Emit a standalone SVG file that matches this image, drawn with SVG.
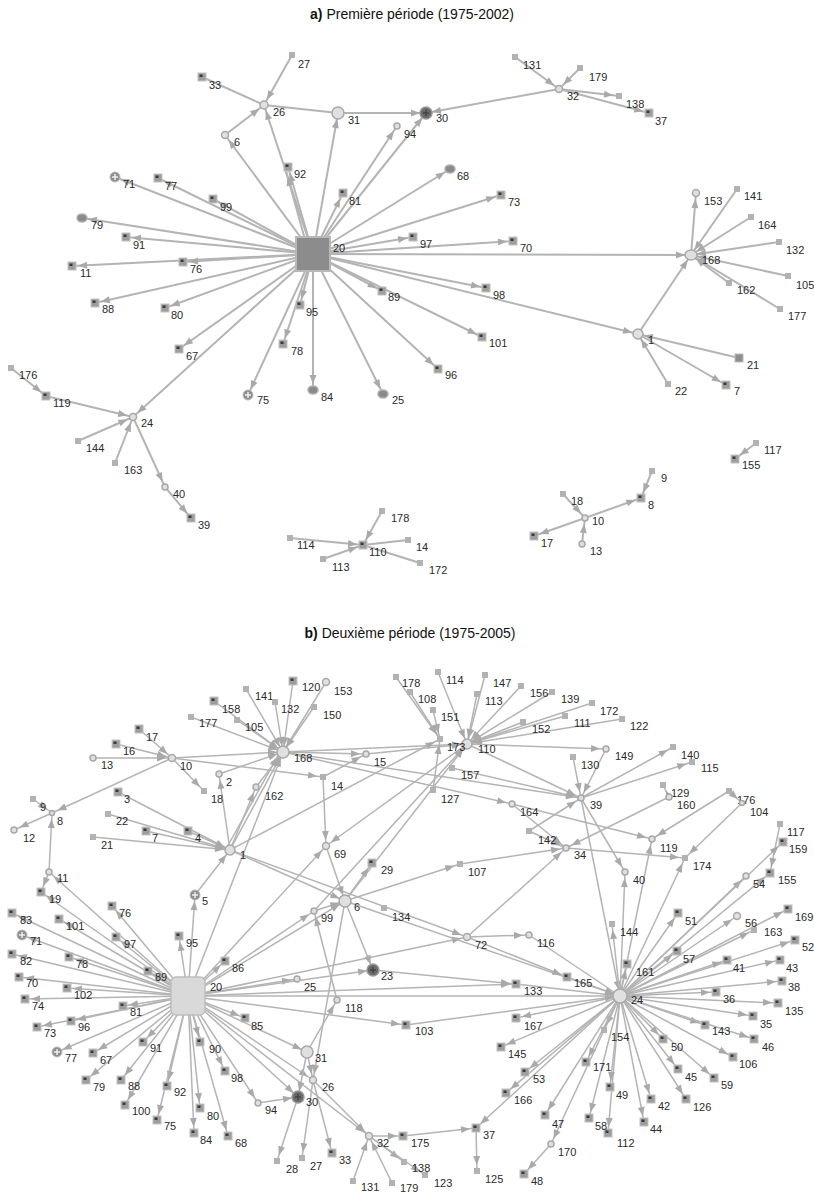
<svg xmlns="http://www.w3.org/2000/svg" xmlns:xlink="http://www.w3.org/1999/xlink" width="814" height="1193" viewBox="0 0 814 1193">
<style>
text{font-family:"Liberation Sans",Arial,sans-serif;font-size:11px;fill:#2a2a2a}
.ttl{font-size:14px;fill:#111}
.ea line{stroke:#b4b4b4;stroke-width:2}
.eb line{stroke:#b4b4b4;stroke-width:1.5}
.c{fill:#e0e0e0;stroke:#a8a8a8;stroke-width:1.5}
</style>
<defs>
<marker id="ar" markerUnits="userSpaceOnUse" markerWidth="9" markerHeight="7" refX="15" refY="3.5" orient="auto" overflow="visible"><path d="M0,0L9,3.5L0,7z" fill="#a9a9a9"/></marker>
<g id="F"><rect x="-4" y="-4" width="8" height="8" fill="#9d9d9d" stroke="#c2c2c2"/><rect x="-2.5" y="-2.5" width="3" height="2.5" fill="#3a3a3a"/></g>
<rect id="L" x="-3" y="-3" width="6" height="6" fill="#b2b2b2"/>
<g id="X"><circle r="5" fill="#8e8e8e" stroke="#bbb"/><path d="M-3,0H3M0,-3V3" stroke="#eee" stroke-width="1.5"/></g>
<ellipse id="E" rx="5" ry="4" fill="#8a8a8a" stroke="#b0b0b0" stroke-width="1.5"/>
<g id="D"><circle r="6" fill="#6a6a6a" stroke="#9a9a9a" stroke-width="1.5"/><path d="M-3,0H3M0,-3V3" stroke="#444" stroke-width="1.5"/></g>
</defs>
<rect width="814" height="1193" fill="#fff"/>
<text class="ttl" x="412" y="19" text-anchor="middle"><tspan font-weight="bold">a)</tspan> Première période (1975-2002)</text>
<text class="ttl" x="410" y="638" text-anchor="middle"><tspan font-weight="bold">b)</tspan> Deuxième période (1975-2005)</text>
<g id="connectors">
<g class="ea" marker-end="url(#ar)">
<line x1="313" y1="254" x2="264" y2="105"/><line x1="313" y1="254" x2="338" y2="113"/><line x1="313" y1="254" x2="397" y2="126"/><line x1="313" y1="254" x2="426" y2="113"/><line x1="313" y1="254" x2="225" y2="135"/><line x1="313" y1="254" x2="288" y2="167"/><line x1="309" y1="254" x2="286" y2="171"/><line x1="313" y1="254" x2="115" y2="177"/><line x1="313" y1="254" x2="158" y2="178"/><line x1="313" y1="254" x2="213" y2="199"/><line x1="313" y1="254" x2="343" y2="193"/><line x1="313" y1="254" x2="450" y2="169"/><line x1="313" y1="254" x2="501" y2="195"/><line x1="313" y1="254" x2="413" y2="237"/><line x1="313" y1="254" x2="513" y2="241"/><line x1="313" y1="254" x2="691" y2="255"/><line x1="313" y1="254" x2="486" y2="288"/><line x1="313" y1="254" x2="638" y2="334"/><line x1="313" y1="254" x2="382" y2="291"/><line x1="313" y1="254" x2="482" y2="337"/><line x1="313" y1="254" x2="438" y2="369"/><line x1="313" y1="254" x2="383" y2="394"/><line x1="313" y1="254" x2="313" y2="390"/><line x1="313" y1="254" x2="300" y2="305"/><line x1="313" y1="254" x2="283" y2="344"/><line x1="313" y1="254" x2="248" y2="395"/><line x1="313" y1="254" x2="133" y2="417"/><line x1="313" y1="254" x2="179" y2="349"/><line x1="313" y1="254" x2="165" y2="308"/><line x1="313" y1="254" x2="95" y2="303"/><line x1="313" y1="254" x2="72" y2="266"/><line x1="313" y1="254" x2="183" y2="262"/><line x1="313" y1="254" x2="126" y2="237"/><line x1="313" y1="254" x2="82" y2="218"/>
<line x1="225" y1="135" x2="264" y2="105"/><line x1="292" y1="55" x2="264" y2="105"/><line x1="338" y1="113" x2="426" y2="113"/><line x1="559" y1="89" x2="426" y2="113"/><line x1="515" y1="57" x2="559" y2="89"/><line x1="580" y1="68" x2="559" y2="89"/><line x1="559" y1="89" x2="619" y2="96"/><line x1="559" y1="89" x2="649" y2="113"/>
<line x1="638" y1="334" x2="691" y2="255"/><line x1="739" y1="358" x2="638" y2="334"/><line x1="668" y1="384" x2="638" y2="334"/><line x1="638" y1="334" x2="726" y2="385"/>
<line x1="691" y1="255" x2="696" y2="193"/><line x1="737" y1="189" x2="691" y2="255"/><line x1="751" y1="217" x2="691" y2="255"/><line x1="779" y1="242" x2="691" y2="255"/><line x1="788" y1="276" x2="691" y2="255"/><line x1="729" y1="283" x2="691" y2="255"/><line x1="780" y1="309" x2="691" y2="255"/>
<line x1="11" y1="368" x2="46" y2="396"/><line x1="46" y1="396" x2="133" y2="417"/><line x1="78" y1="441" x2="133" y2="417"/><line x1="115" y1="463" x2="133" y2="417"/><line x1="133" y1="417" x2="165" y2="487"/><line x1="165" y1="487" x2="191" y2="518"/>
<line x1="290" y1="538" x2="363" y2="545"/><line x1="382" y1="511" x2="363" y2="545"/><line x1="323" y1="559" x2="363" y2="545"/>
<line x1="563" y1="494" x2="585" y2="518"/><line x1="585" y1="518" x2="641" y2="498"/><line x1="585" y1="518" x2="534" y2="536"/><line x1="582" y1="544" x2="585" y2="518"/><line x1="652" y1="471" x2="641" y2="498"/><line x1="756" y1="443" x2="735" y2="459"/>
</g>
<g class="ea">
<line x1="202" y1="77" x2="264" y2="105"/><line x1="264" y1="105" x2="338" y2="113"/><line x1="363" y1="545" x2="408" y2="540"/><line x1="363" y1="545" x2="420" y2="563"/>
</g>
<g class="eb" marker-end="url(#ar)">
<line x1="188" y1="996" x2="112" y2="906"/><line x1="188" y1="996" x2="12" y2="913"/><line x1="188" y1="996" x2="59" y2="919"/><line x1="188" y1="996" x2="22" y2="935"/><line x1="188" y1="996" x2="116" y2="937"/><line x1="188" y1="996" x2="179" y2="936"/><line x1="188" y1="996" x2="12" y2="954"/><line x1="188" y1="996" x2="69" y2="957"/><line x1="188" y1="996" x2="148" y2="971"/><line x1="188" y1="996" x2="19" y2="977"/><line x1="188" y1="996" x2="67" y2="988"/><line x1="188" y1="996" x2="25" y2="999"/><line x1="188" y1="996" x2="123" y2="1006"/><line x1="188" y1="996" x2="37" y2="1027"/><line x1="188" y1="996" x2="71" y2="1021"/><line x1="188" y1="996" x2="57" y2="1052"/><line x1="188" y1="996" x2="93" y2="1053"/><line x1="188" y1="996" x2="143" y2="1042"/><line x1="188" y1="996" x2="86" y2="1080"/><line x1="188" y1="996" x2="121" y2="1080"/><line x1="188" y1="996" x2="167" y2="1086"/><line x1="188" y1="996" x2="125" y2="1105"/><line x1="188" y1="996" x2="157" y2="1120"/><line x1="188" y1="996" x2="194" y2="1133"/><line x1="188" y1="996" x2="200" y2="1108"/><line x1="188" y1="996" x2="228" y2="1136"/><line x1="188" y1="996" x2="200" y2="1042"/><line x1="188" y1="996" x2="225" y2="1071"/><line x1="188" y1="996" x2="258" y2="1103"/><line x1="188" y1="996" x2="298" y2="1097"/><line x1="188" y1="996" x2="313" y2="1080"/><line x1="188" y1="996" x2="369" y2="1136"/><line x1="188" y1="996" x2="307" y2="1052"/><line x1="188" y1="996" x2="245" y2="1018"/><line x1="188" y1="996" x2="406" y2="1025"/><line x1="188" y1="996" x2="297" y2="979"/><line x1="188" y1="996" x2="373" y2="970"/><line x1="188" y1="996" x2="225" y2="961"/><line x1="188" y1="996" x2="314" y2="911"/><line x1="188" y1="996" x2="345" y2="901"/><line x1="188" y1="996" x2="467" y2="937"/><line x1="188" y1="996" x2="326" y2="846"/><line x1="188" y1="996" x2="283" y2="752"/><line x1="188" y1="996" x2="195" y2="895"/><line x1="188" y1="996" x2="41" y2="892"/><line x1="188" y1="996" x2="49" y2="872"/><line x1="188" y1="996" x2="516" y2="984"/>
<line x1="293" y1="681" x2="283" y2="752"/><line x1="326" y1="682" x2="283" y2="752"/><line x1="246" y1="689" x2="283" y2="752"/><line x1="275" y1="702" x2="283" y2="752"/><line x1="314" y1="707" x2="283" y2="752"/><line x1="214" y1="701" x2="283" y2="752"/><line x1="237" y1="720" x2="283" y2="752"/><line x1="191" y1="717" x2="283" y2="752"/><line x1="256" y1="787" x2="283" y2="752"/><line x1="219" y1="774" x2="283" y2="752"/><line x1="230" y1="850" x2="283" y2="752"/><line x1="226" y1="849" x2="280" y2="752"/><line x1="172" y1="758" x2="283" y2="752"/>
<line x1="283" y1="752" x2="467" y2="744"/><line x1="172" y1="758" x2="323" y2="777"/><line x1="283" y1="752" x2="581" y2="798"/><line x1="283" y1="752" x2="512" y2="804"/><line x1="283" y1="752" x2="366" y2="754"/><line x1="323" y1="777" x2="366" y2="754"/><line x1="366" y1="754" x2="467" y2="744"/><line x1="323" y1="777" x2="326" y2="846"/>
<line x1="396" y1="677" x2="440" y2="739"/><line x1="410" y1="692" x2="440" y2="739"/><line x1="433" y1="710" x2="440" y2="739"/><line x1="438" y1="672" x2="467" y2="744"/><line x1="485" y1="675" x2="467" y2="744"/><line x1="477" y1="694" x2="467" y2="744"/><line x1="521" y1="686" x2="467" y2="744"/><line x1="552" y1="692" x2="467" y2="744"/><line x1="592" y1="703" x2="467" y2="744"/><line x1="622" y1="719" x2="467" y2="744"/><line x1="523" y1="722" x2="467" y2="744"/><line x1="565" y1="716" x2="467" y2="744"/><line x1="433" y1="790" x2="440" y2="739"/>
<line x1="467" y1="744" x2="606" y2="749"/><line x1="467" y1="744" x2="581" y2="798"/><line x1="345" y1="901" x2="467" y2="744"/><line x1="467" y1="744" x2="326" y2="846"/><line x1="314" y1="911" x2="467" y2="744"/><line x1="230" y1="850" x2="440" y2="739"/>
<line x1="573" y1="757" x2="581" y2="798"/><line x1="606" y1="749" x2="581" y2="798"/><line x1="452" y1="768" x2="581" y2="798"/><line x1="529" y1="831" x2="581" y2="798"/><line x1="581" y1="798" x2="673" y2="747"/><line x1="581" y1="798" x2="692" y2="762"/><line x1="581" y1="798" x2="620" y2="996"/><line x1="581" y1="798" x2="625" y2="872"/>
<line x1="512" y1="804" x2="652" y2="839"/><line x1="512" y1="804" x2="566" y2="848"/><line x1="529" y1="831" x2="566" y2="848"/><line x1="460" y1="864" x2="566" y2="848"/><line x1="345" y1="901" x2="460" y2="864"/><line x1="467" y1="937" x2="566" y2="848"/><line x1="669" y1="797" x2="566" y2="848"/><line x1="669" y1="797" x2="663" y2="785"/><line x1="566" y1="848" x2="685" y2="858"/><line x1="729" y1="791" x2="652" y2="839"/><line x1="729" y1="791" x2="742" y2="803"/><line x1="742" y1="803" x2="685" y2="858"/><line x1="620" y1="996" x2="652" y2="839"/><line x1="620" y1="996" x2="685" y2="858"/><line x1="620" y1="996" x2="625" y2="872"/><line x1="780" y1="824" x2="770" y2="873"/>
<line x1="620" y1="996" x2="612" y2="924"/><line x1="620" y1="996" x2="627" y2="964"/><line x1="620" y1="996" x2="678" y2="913"/><line x1="620" y1="996" x2="677" y2="951"/><line x1="620" y1="996" x2="737" y2="916"/><line x1="620" y1="996" x2="788" y2="909"/><line x1="620" y1="996" x2="754" y2="930"/><line x1="620" y1="996" x2="795" y2="940"/><line x1="620" y1="996" x2="727" y2="960"/><line x1="620" y1="996" x2="780" y2="960"/><line x1="620" y1="996" x2="782" y2="981"/><line x1="620" y1="996" x2="716" y2="992"/><line x1="620" y1="996" x2="778" y2="1003"/><line x1="620" y1="996" x2="753" y2="1016"/><line x1="620" y1="996" x2="705" y2="1025"/><line x1="620" y1="996" x2="754" y2="1039"/><line x1="620" y1="996" x2="663" y2="1039"/><line x1="620" y1="996" x2="733" y2="1057"/><line x1="620" y1="996" x2="678" y2="1069"/><line x1="620" y1="996" x2="714" y2="1078"/><line x1="620" y1="996" x2="651" y2="1099"/><line x1="620" y1="996" x2="686" y2="1099"/><line x1="620" y1="996" x2="644" y2="1122"/><line x1="620" y1="996" x2="608" y2="1133"/><line x1="620" y1="996" x2="610" y2="1087"/><line x1="620" y1="996" x2="604" y2="1030"/><line x1="620" y1="996" x2="589" y2="1118"/><line x1="620" y1="996" x2="586" y2="1062"/><line x1="620" y1="996" x2="545" y2="1115"/><line x1="620" y1="996" x2="551" y2="1144"/><line x1="620" y1="996" x2="525" y2="1072"/><line x1="620" y1="996" x2="506" y2="1093"/><line x1="620" y1="996" x2="501" y2="1047"/><line x1="620" y1="996" x2="516" y2="1018"/><line x1="620" y1="996" x2="476" y2="1128"/><line x1="620" y1="996" x2="746" y2="876"/><line x1="620" y1="996" x2="770" y2="873"/><line x1="620" y1="996" x2="783" y2="842"/>
<line x1="516" y1="984" x2="620" y2="996"/><line x1="567" y1="977" x2="620" y2="996"/><line x1="406" y1="1025" x2="620" y2="996"/><line x1="345" y1="901" x2="620" y2="996"/><line x1="551" y1="1144" x2="524" y2="1174"/><line x1="467" y1="937" x2="567" y2="977"/><line x1="467" y1="937" x2="529" y2="935"/>
<line x1="230" y1="850" x2="345" y2="901"/><line x1="230" y1="850" x2="467" y2="937"/><line x1="314" y1="911" x2="345" y2="901"/><line x1="345" y1="901" x2="373" y2="970"/><line x1="345" y1="901" x2="313" y2="1080"/><line x1="326" y1="846" x2="345" y2="901"/><line x1="345" y1="901" x2="372" y2="863"/><line x1="373" y1="970" x2="516" y2="984"/><line x1="307" y1="1052" x2="337" y2="1000"/><line x1="337" y1="1000" x2="314" y2="911"/><line x1="307" y1="1052" x2="298" y2="1097"/><line x1="307" y1="1052" x2="313" y2="1080"/><line x1="313" y1="1080" x2="369" y2="1136"/><line x1="313" y1="1080" x2="302" y2="1158"/><line x1="313" y1="1080" x2="332" y2="1153"/><line x1="298" y1="1097" x2="277" y2="1161"/><line x1="258" y1="1103" x2="298" y2="1097"/>
<line x1="353" y1="1181" x2="369" y2="1136"/><line x1="392" y1="1183" x2="369" y2="1136"/><line x1="369" y1="1136" x2="403" y2="1136"/><line x1="369" y1="1136" x2="404" y2="1162"/><line x1="369" y1="1136" x2="425" y2="1175"/><line x1="403" y1="1136" x2="476" y2="1128"/><line x1="476" y1="1128" x2="477" y2="1171"/>
<line x1="139" y1="729" x2="172" y2="758"/><line x1="116" y1="744" x2="172" y2="758"/><line x1="93" y1="758" x2="172" y2="758"/><line x1="172" y1="758" x2="204" y2="791"/><line x1="172" y1="758" x2="52" y2="813"/><line x1="33" y1="799" x2="52" y2="813"/><line x1="52" y1="813" x2="14" y2="830"/><line x1="49" y1="872" x2="52" y2="813"/><line x1="49" y1="872" x2="41" y2="892"/>
<line x1="118" y1="792" x2="230" y2="850"/><line x1="108" y1="814" x2="230" y2="850"/><line x1="146" y1="831" x2="230" y2="850"/><line x1="188" y1="831" x2="230" y2="850"/><line x1="93" y1="837" x2="230" y2="850"/><line x1="230" y1="850" x2="219" y2="774"/><line x1="230" y1="850" x2="256" y2="787"/><line x1="195" y1="895" x2="230" y2="850"/>
</g>
<g class="eb"><line x1="188" y1="996" x2="620" y2="996"/><line x1="529" y1="935" x2="620" y2="996"/></g>
</g>
<g id="nodes-a">
<g id="a20"><rect x="296" y="237" width="34" height="34" fill="#8c8c8c" stroke="#b8b8b8" stroke-width="2"/><text x="333" y="252">20</text></g>
<g id="a27"><use href="#L" x="292" y="55"/><text x="298" y="68">27</text></g>
<g id="a33"><use href="#F" x="202" y="77"/><text x="209" y="89">33</text></g>
<g id="a26"><circle class="c" cx="264" cy="105" r="4"/><text x="273" y="116">26</text></g>
<g id="a31"><circle class="c" cx="338" cy="113" r="6"/><text x="348" y="124">31</text></g>
<g id="a6"><circle class="c" cx="225" cy="135" r="3.5"/><text x="234" y="146">6</text></g>
<g id="a92"><use href="#F" x="288" y="167"/><text x="294" y="178">92</text></g>
<g id="a71"><use href="#X" x="115" y="177"/><text x="123" y="188">71</text></g>
<g id="a77"><use href="#F" x="158" y="178"/><text x="165" y="190">77</text></g>
<g id="a99"><use href="#F" x="213" y="199"/><text x="220" y="211">99</text></g>
<g id="a81"><use href="#F" x="343" y="193"/><text x="349" y="205">81</text></g>
<g id="a79"><use href="#E" x="82" y="218"/><text x="91" y="229">79</text></g>
<g id="a91"><use href="#F" x="126" y="237"/><text x="133" y="249">91</text></g>
<g id="a11"><use href="#F" x="72" y="266"/><text x="80" y="277">11</text></g>
<g id="a76"><use href="#F" x="183" y="262"/><text x="190" y="273">76</text></g>
<g id="a89"><use href="#F" x="382" y="291"/><text x="388" y="301">89</text></g>
<g id="a88"><use href="#F" x="95" y="303"/><text x="102" y="313">88</text></g>
<g id="a80"><use href="#F" x="165" y="308"/><text x="171" y="319">80</text></g>
<g id="a67"><use href="#F" x="179" y="349"/><text x="186" y="360">67</text></g>
<g id="a95"><use href="#F" x="300" y="305"/><text x="306" y="316">95</text></g>
<g id="a78"><use href="#F" x="283" y="344"/><text x="291" y="355">78</text></g>
<g id="a75"><use href="#X" x="248" y="395"/><text x="257" y="404">75</text></g>
<g id="a84"><use href="#E" x="313" y="390"/><text x="321" y="401">84</text></g>
<g id="a25"><use href="#E" x="383" y="394"/><text x="392" y="404">25</text></g>
<g id="a176"><use href="#L" x="11" y="368"/><text x="19" y="379">176</text></g>
<g id="a119"><use href="#F" x="46" y="396"/><text x="53" y="407">119</text></g>
<g id="a24"><circle class="c" cx="133" cy="417" r="3.5"/><text x="141" y="427">24</text></g>
<g id="a144"><use href="#L" x="78" y="441"/><text x="86" y="452">144</text></g>
<g id="a163"><use href="#L" x="115" y="463"/><text x="124" y="474">163</text></g>
<g id="a40"><circle class="c" cx="165" cy="487" r="3"/><text x="173" y="498">40</text></g>
<g id="a39"><use href="#F" x="191" y="518"/><text x="198" y="529">39</text></g>
<g id="a114"><use href="#L" x="290" y="538"/><text x="297" y="549">114</text></g>
<g id="a178"><use href="#L" x="382" y="511"/><text x="391" y="522">178</text></g>
<g id="a110"><use href="#F" x="363" y="545"/><text x="369" y="556">110</text></g>
<g id="a113"><use href="#L" x="323" y="559"/><text x="332" y="571">113</text></g>
<g id="a14"><use href="#L" x="408" y="540"/><text x="416" y="551">14</text></g>
<g id="a172"><use href="#L" x="420" y="563"/><text x="429" y="574">172</text></g>
<g id="a30"><use href="#D" x="426" y="113"/><text x="436" y="122">30</text></g>
<g id="a94"><circle class="c" cx="397" cy="126" r="3"/><text x="404" y="138">94</text></g>
<g id="a131"><use href="#L" x="515" y="57"/><text x="523" y="69">131</text></g>
<g id="a179"><use href="#L" x="580" y="68"/><text x="589" y="81">179</text></g>
<g id="a32"><circle class="c" cx="559" cy="89" r="3.5"/><text x="567" y="100">32</text></g>
<g id="a138"><use href="#L" x="619" y="96"/><text x="626" y="108">138</text></g>
<g id="a37"><use href="#F" x="649" y="113"/><text x="655" y="125">37</text></g>
<g id="a68"><use href="#E" x="450" y="169"/><text x="457" y="180">68</text></g>
<g id="a73"><use href="#F" x="501" y="195"/><text x="508" y="206">73</text></g>
<g id="a97"><use href="#F" x="413" y="237"/><text x="420" y="248">97</text></g>
<g id="a70"><use href="#F" x="513" y="241"/><text x="520" y="252">70</text></g>
<g id="a98"><use href="#F" x="486" y="288"/><text x="493" y="299">98</text></g>
<g id="a153"><circle class="c" cx="696" cy="193" r="3.5"/><text x="704" y="205">153</text></g>
<g id="a141"><use href="#L" x="737" y="189"/><text x="744" y="200">141</text></g>
<g id="a164"><use href="#L" x="751" y="217"/><text x="758" y="229">164</text></g>
<g id="a132"><use href="#L" x="779" y="242"/><text x="786" y="254">132</text></g>
<g id="a168"><ellipse class="c" cx="691" cy="255" rx="6" ry="5"/><text x="702" y="264">168</text></g>
<g id="a105"><use href="#L" x="788" y="276"/><text x="796" y="289">105</text></g>
<g id="a162"><use href="#L" x="729" y="283"/><text x="737" y="294">162</text></g>
<g id="a177"><use href="#L" x="780" y="309"/><text x="788" y="320">177</text></g>
<g id="a1"><circle class="c" cx="638" cy="334" r="5"/><text x="648" y="344">1</text></g>
<g id="a101"><use href="#F" x="482" y="337"/><text x="489" y="347">101</text></g>
<g id="a96"><use href="#F" x="438" y="369"/><text x="445" y="379">96</text></g>
<g id="a21"><rect x="735" y="354" width="8" height="8" fill="#8e8e8e" stroke="#bbb"/><text x="747" y="369">21</text></g>
<g id="a22"><use href="#L" x="668" y="384"/><text x="675" y="395">22</text></g>
<g id="a7"><use href="#F" x="726" y="385"/><text x="734" y="395">7</text></g>
<g id="a117"><use href="#L" x="756" y="443"/><text x="764" y="454">117</text></g>
<g id="a155"><use href="#F" x="735" y="459"/><text x="742" y="469">155</text></g>
<g id="a9"><use href="#L" x="652" y="471"/><text x="661" y="482">9</text></g>
<g id="a18"><use href="#L" x="563" y="494"/><text x="571" y="505">18</text></g>
<g id="a8"><use href="#F" x="641" y="498"/><text x="648" y="509">8</text></g>
<g id="a10"><circle class="c" cx="585" cy="518" r="3"/><text x="592" y="525">10</text></g>
<g id="a17"><use href="#F" x="534" y="536"/><text x="541" y="547">17</text></g>
<g id="a13"><circle class="c" cx="582" cy="544" r="3"/><text x="590" y="555">13</text></g>
</g>
<g id="nodes-b">
<g id="b20"><rect x="171" y="977" width="34" height="38" rx="5" fill="#d9d9d9" stroke="#bdbdbd" stroke-width="1.5"/><text x="210" y="991">20</text></g>
<g id="b24"><circle class="c" cx="620" cy="996" r="7"/><text x="631" y="1004">24</text></g>
<g id="b168"><circle class="c" cx="283" cy="752" r="6"/><text x="294" y="762">168</text></g>
<g id="b110"><circle class="c" cx="467" cy="744" r="5"/><text x="478" y="753">110</text></g>
<g id="b173"><use href="#L" x="440" y="739"/><text x="447" y="751">173</text></g>
<g id="b1"><circle class="c" cx="230" cy="850" r="5"/><text x="240" y="859">1</text></g>
<g id="b6"><circle class="c" cx="345" cy="901" r="6"/><text x="354" y="911">6</text></g>
<g id="b10"><circle class="c" cx="172" cy="758" r="3.5"/><text x="180" y="770">10</text></g>
<g id="b8"><circle class="c" cx="52" cy="813" r="2.5"/><text x="57" y="825">8</text></g>
<g id="b9"><use href="#L" x="33" y="799"/><text x="40" y="811">9</text></g>
<g id="b12"><circle class="c" cx="14" cy="830" r="3"/><text x="23" y="842">12</text></g>
<g id="b11"><circle class="c" cx="49" cy="872" r="3"/><text x="57" y="882">11</text></g>
<g id="b19"><use href="#F" x="41" y="892"/><text x="49" y="903">19</text></g>
<g id="b17"><use href="#F" x="139" y="729"/><text x="146" y="741">17</text></g>
<g id="b16"><use href="#F" x="116" y="744"/><text x="123" y="755">16</text></g>
<g id="b13"><circle class="c" cx="93" cy="758" r="3"/><text x="101" y="769">13</text></g>
<g id="b177"><use href="#L" x="191" y="717"/><text x="199" y="727">177</text></g>
<g id="b3"><use href="#F" x="118" y="792"/><text x="124" y="803">3</text></g>
<g id="b22"><use href="#L" x="108" y="814"/><text x="116" y="825">22</text></g>
<g id="b7"><use href="#F" x="146" y="831"/><text x="152" y="842">7</text></g>
<g id="b4"><use href="#F" x="188" y="831"/><text x="195" y="842">4</text></g>
<g id="b21"><use href="#L" x="93" y="837"/><text x="101" y="849">21</text></g>
<g id="b5"><use href="#X" x="195" y="895"/><text x="202" y="905">5</text></g>
<g id="b18"><use href="#L" x="204" y="791"/><text x="211" y="803">18</text></g>
<g id="b2"><circle class="c" cx="219" cy="774" r="3"/><text x="226" y="786">2</text></g>
<g id="b158"><use href="#F" x="214" y="701"/><text x="222" y="713">158</text></g>
<g id="b105"><use href="#L" x="237" y="720"/><text x="245" y="731">105</text></g>
<g id="b141"><use href="#L" x="246" y="689"/><text x="255" y="700">141</text></g>
<g id="b132"><use href="#L" x="275" y="702"/><text x="281" y="713">132</text></g>
<g id="b120"><use href="#F" x="293" y="681"/><text x="302" y="691">120</text></g>
<g id="b153"><circle class="c" cx="326" cy="682" r="3.5"/><text x="334" y="695">153</text></g>
<g id="b150"><use href="#L" x="314" y="707"/><text x="323" y="719">150</text></g>
<g id="b162"><circle class="c" cx="256" cy="787" r="3"/><text x="265" y="800">162</text></g>
<g id="b15"><circle class="c" cx="366" cy="754" r="3"/><text x="374" y="766">15</text></g>
<g id="b14"><use href="#L" x="323" y="777"/><text x="331" y="790">14</text></g>
<g id="b69"><circle class="c" cx="326" cy="846" r="3.5"/><text x="334" y="858">69</text></g>
<g id="b29"><use href="#F" x="372" y="863"/><text x="381" y="874">29</text></g>
<g id="b99"><circle class="c" cx="314" cy="911" r="3"/><text x="321" y="922">99</text></g>
<g id="b134"><use href="#L" x="384" y="908"/><text x="392" y="921">134</text></g>
<g id="b178"><use href="#L" x="396" y="677"/><text x="402" y="687">178</text></g>
<g id="b108"><use href="#L" x="410" y="692"/><text x="418" y="703">108</text></g>
<g id="b114"><use href="#L" x="438" y="672"/><text x="446" y="684">114</text></g>
<g id="b147"><use href="#L" x="485" y="675"/><text x="493" y="687">147</text></g>
<g id="b113"><use href="#L" x="477" y="694"/><text x="485" y="705">113</text></g>
<g id="b156"><use href="#L" x="521" y="686"/><text x="530" y="697">156</text></g>
<g id="b139"><use href="#L" x="552" y="692"/><text x="561" y="703">139</text></g>
<g id="b172"><use href="#L" x="592" y="703"/><text x="600" y="715">172</text></g>
<g id="b122"><use href="#L" x="622" y="719"/><text x="630" y="730">122</text></g>
<g id="b151"><use href="#L" x="433" y="710"/><text x="441" y="721">151</text></g>
<g id="b152"><use href="#L" x="523" y="722"/><text x="532" y="733">152</text></g>
<g id="b111"><use href="#L" x="565" y="716"/><text x="574" y="727">111</text></g>
<g id="b149"><circle class="c" cx="606" cy="749" r="3"/><text x="615" y="760">149</text></g>
<g id="b130"><use href="#L" x="573" y="757"/><text x="581" y="769">130</text></g>
<g id="b157"><use href="#L" x="452" y="768"/><text x="461" y="779">157</text></g>
<g id="b127"><use href="#L" x="433" y="790"/><text x="441" y="803">127</text></g>
<g id="b164"><circle class="c" cx="512" cy="804" r="3"/><text x="520" y="816">164</text></g>
<g id="b39"><circle class="c" cx="581" cy="798" r="3"/><text x="590" y="809">39</text></g>
<g id="b142"><use href="#L" x="529" y="831"/><text x="538" y="844">142</text></g>
<g id="b34"><circle class="c" cx="566" cy="848" r="3"/><text x="574" y="859">34</text></g>
<g id="b107"><use href="#L" x="460" y="864"/><text x="468" y="876">107</text></g>
<g id="b140"><use href="#L" x="673" y="747"/><text x="681" y="759">140</text></g>
<g id="b115"><use href="#L" x="692" y="762"/><text x="701" y="772">115</text></g>
<g id="b129"><use href="#L" x="663" y="785"/><text x="671" y="797">129</text></g>
<g id="b160"><circle class="c" cx="669" cy="797" r="3"/><text x="677" y="809">160</text></g>
<g id="b176"><use href="#L" x="729" y="791"/><text x="737" y="804">176</text></g>
<g id="b104"><circle class="c" cx="742" cy="803" r="2.5"/><text x="750" y="816">104</text></g>
<g id="b117"><use href="#L" x="780" y="824"/><text x="787" y="836">117</text></g>
<g id="b159"><use href="#F" x="783" y="842"/><text x="789" y="853">159</text></g>
<g id="b119"><circle class="c" cx="652" cy="839" r="3"/><text x="660" y="852">119</text></g>
<g id="b174"><use href="#L" x="685" y="858"/><text x="693" y="870">174</text></g>
<g id="b40"><circle class="c" cx="625" cy="872" r="3"/><text x="633" y="884">40</text></g>
<g id="b155"><use href="#F" x="770" y="873"/><text x="778" y="884">155</text></g>
<g id="b54"><circle class="c" cx="746" cy="876" r="3"/><text x="753" y="888">54</text></g>
<g id="b144"><use href="#L" x="612" y="924"/><text x="620" y="936">144</text></g>
<g id="b161"><use href="#F" x="627" y="964"/><text x="636" y="976">161</text></g>
<g id="b51"><use href="#F" x="678" y="913"/><text x="685" y="925">51</text></g>
<g id="b57"><use href="#F" x="677" y="951"/><text x="683" y="963">57</text></g>
<g id="b56"><circle class="c" cx="737" cy="916" r="3.5"/><text x="745" y="927">56</text></g>
<g id="b169"><use href="#F" x="788" y="909"/><text x="795" y="921">169</text></g>
<g id="b163"><use href="#L" x="754" y="930"/><text x="764" y="936">163</text></g>
<g id="b52"><use href="#F" x="795" y="940"/><text x="802" y="951">52</text></g>
<g id="b41"><use href="#F" x="727" y="960"/><text x="733" y="972">41</text></g>
<g id="b43"><use href="#F" x="780" y="960"/><text x="786" y="972">43</text></g>
<g id="b38"><use href="#F" x="782" y="981"/><text x="788" y="991">38</text></g>
<g id="b36"><use href="#F" x="716" y="992"/><text x="723" y="1003">36</text></g>
<g id="b135"><use href="#F" x="778" y="1003"/><text x="785" y="1015">135</text></g>
<g id="b35"><use href="#F" x="753" y="1016"/><text x="760" y="1028">35</text></g>
<g id="b143"><use href="#F" x="705" y="1025"/><text x="712" y="1035">143</text></g>
<g id="b46"><use href="#F" x="754" y="1039"/><text x="762" y="1051">46</text></g>
<g id="b50"><use href="#F" x="663" y="1039"/><text x="671" y="1051">50</text></g>
<g id="b106"><use href="#F" x="733" y="1057"/><text x="739" y="1068">106</text></g>
<g id="b45"><use href="#F" x="678" y="1069"/><text x="685" y="1081">45</text></g>
<g id="b59"><use href="#F" x="714" y="1078"/><text x="721" y="1089">59</text></g>
<g id="b42"><use href="#F" x="651" y="1099"/><text x="658" y="1110">42</text></g>
<g id="b126"><use href="#F" x="686" y="1099"/><text x="693" y="1111">126</text></g>
<g id="b44"><use href="#F" x="644" y="1122"/><text x="650" y="1133">44</text></g>
<g id="b112"><use href="#F" x="608" y="1133"/><text x="617" y="1147">112</text></g>
<g id="b49"><use href="#F" x="610" y="1087"/><text x="616" y="1099">49</text></g>
<g id="b154"><use href="#L" x="604" y="1030"/><text x="611" y="1041">154</text></g>
<g id="b58"><use href="#F" x="589" y="1118"/><text x="595" y="1130">58</text></g>
<g id="b171"><use href="#F" x="586" y="1062"/><text x="593" y="1071">171</text></g>
<g id="b47"><use href="#F" x="545" y="1115"/><text x="552" y="1128">47</text></g>
<g id="b170"><circle class="c" cx="551" cy="1144" r="3"/><text x="558" y="1156">170</text></g>
<g id="b48"><use href="#F" x="524" y="1174"/><text x="531" y="1185">48</text></g>
<g id="b53"><use href="#F" x="525" y="1072"/><text x="533" y="1083">53</text></g>
<g id="b166"><use href="#F" x="506" y="1093"/><text x="514" y="1104">166</text></g>
<g id="b145"><use href="#F" x="501" y="1047"/><text x="508" y="1058">145</text></g>
<g id="b167"><use href="#F" x="516" y="1018"/><text x="524" y="1030">167</text></g>
<g id="b133"><use href="#F" x="516" y="984"/><text x="524" y="995">133</text></g>
<g id="b165"><use href="#F" x="567" y="977"/><text x="574" y="987">165</text></g>
<g id="b116"><circle class="c" cx="529" cy="935" r="3"/><text x="537" y="947">116</text></g>
<g id="b72"><circle class="c" cx="467" cy="937" r="3.5"/><text x="475" y="949">72</text></g>
<g id="b37"><use href="#F" x="476" y="1128"/><text x="483" y="1139">37</text></g>
<g id="b125"><use href="#L" x="477" y="1171"/><text x="485" y="1183">125</text></g>
<g id="b175"><use href="#F" x="403" y="1136"/><text x="411" y="1147">175</text></g>
<g id="b32"><circle class="c" cx="369" cy="1136" r="3.5"/><text x="377" y="1147">32</text></g>
<g id="b138"><use href="#L" x="404" y="1162"/><text x="412" y="1172">138</text></g>
<g id="b123"><use href="#L" x="425" y="1175"/><text x="434" y="1187">123</text></g>
<g id="b131"><use href="#L" x="353" y="1181"/><text x="361" y="1191">131</text></g>
<g id="b179"><use href="#L" x="392" y="1183"/><text x="400" y="1192">179</text></g>
<g id="b33"><use href="#F" x="332" y="1153"/><text x="339" y="1164">33</text></g>
<g id="b27"><use href="#L" x="302" y="1158"/><text x="310" y="1170">27</text></g>
<g id="b28"><use href="#L" x="277" y="1161"/><text x="286" y="1173">28</text></g>
<g id="b26"><circle class="c" cx="313" cy="1080" r="3.5"/><text x="322" y="1091">26</text></g>
<g id="b30"><use href="#D" x="298" y="1097"/><text x="306" y="1106">30</text></g>
<g id="b31"><circle class="c" cx="307" cy="1052" r="6"/><text x="315" y="1062">31</text></g>
<g id="b94"><circle class="c" cx="258" cy="1103" r="3"/><text x="265" y="1114">94</text></g>
<g id="b98"><use href="#F" x="225" y="1071"/><text x="231" y="1082">98</text></g>
<g id="b85"><use href="#F" x="245" y="1018"/><text x="251" y="1030">85</text></g>
<g id="b118"><circle class="c" cx="337" cy="1000" r="3"/><text x="345" y="1012">118</text></g>
<g id="b103"><use href="#F" x="406" y="1025"/><text x="415" y="1035">103</text></g>
<g id="b25"><circle class="c" cx="297" cy="979" r="3"/><text x="304" y="991">25</text></g>
<g id="b23"><use href="#D" x="373" y="970"/><text x="381" y="980">23</text></g>
<g id="b86"><use href="#F" x="225" y="961"/><text x="232" y="972">86</text></g>
<g id="b90"><use href="#F" x="200" y="1042"/><text x="209" y="1053">90</text></g>
<g id="b80"><use href="#F" x="200" y="1108"/><text x="207" y="1120">80</text></g>
<g id="b84"><use href="#F" x="194" y="1133"/><text x="200" y="1144">84</text></g>
<g id="b68"><use href="#F" x="228" y="1136"/><text x="235" y="1147">68</text></g>
<g id="b92"><use href="#F" x="167" y="1086"/><text x="174" y="1096">92</text></g>
<g id="b75"><use href="#F" x="157" y="1120"/><text x="164" y="1130">75</text></g>
<g id="b100"><use href="#F" x="125" y="1105"/><text x="132" y="1115">100</text></g>
<g id="b88"><use href="#F" x="121" y="1080"/><text x="128" y="1090">88</text></g>
<g id="b79"><use href="#F" x="86" y="1080"/><text x="93" y="1091">79</text></g>
<g id="b91"><use href="#F" x="143" y="1042"/><text x="150" y="1052">91</text></g>
<g id="b67"><use href="#F" x="93" y="1053"/><text x="100" y="1064">67</text></g>
<g id="b77"><use href="#X" x="57" y="1052"/><text x="65" y="1062">77</text></g>
<g id="b96"><use href="#F" x="71" y="1021"/><text x="78" y="1031">96</text></g>
<g id="b73"><use href="#F" x="37" y="1027"/><text x="44" y="1037">73</text></g>
<g id="b81"><use href="#F" x="123" y="1006"/><text x="130" y="1016">81</text></g>
<g id="b74"><use href="#F" x="25" y="999"/><text x="32" y="1010">74</text></g>
<g id="b102"><use href="#F" x="67" y="988"/><text x="74" y="999">102</text></g>
<g id="b70"><use href="#F" x="19" y="977"/><text x="26" y="987">70</text></g>
<g id="b89"><use href="#F" x="148" y="971"/><text x="155" y="981">89</text></g>
<g id="b78"><use href="#F" x="69" y="957"/><text x="76" y="968">78</text></g>
<g id="b82"><use href="#F" x="12" y="954"/><text x="20" y="965">82</text></g>
<g id="b95"><use href="#F" x="179" y="936"/><text x="186" y="947">95</text></g>
<g id="b97"><use href="#F" x="116" y="937"/><text x="124" y="948">97</text></g>
<g id="b71"><use href="#X" x="22" y="935"/><text x="30" y="945">71</text></g>
<g id="b101"><use href="#F" x="59" y="919"/><text x="66" y="930">101</text></g>
<g id="b83"><use href="#F" x="12" y="913"/><text x="20" y="924">83</text></g>
<g id="b76"><use href="#F" x="112" y="906"/><text x="119" y="917">76</text></g>
</g>
</svg>
